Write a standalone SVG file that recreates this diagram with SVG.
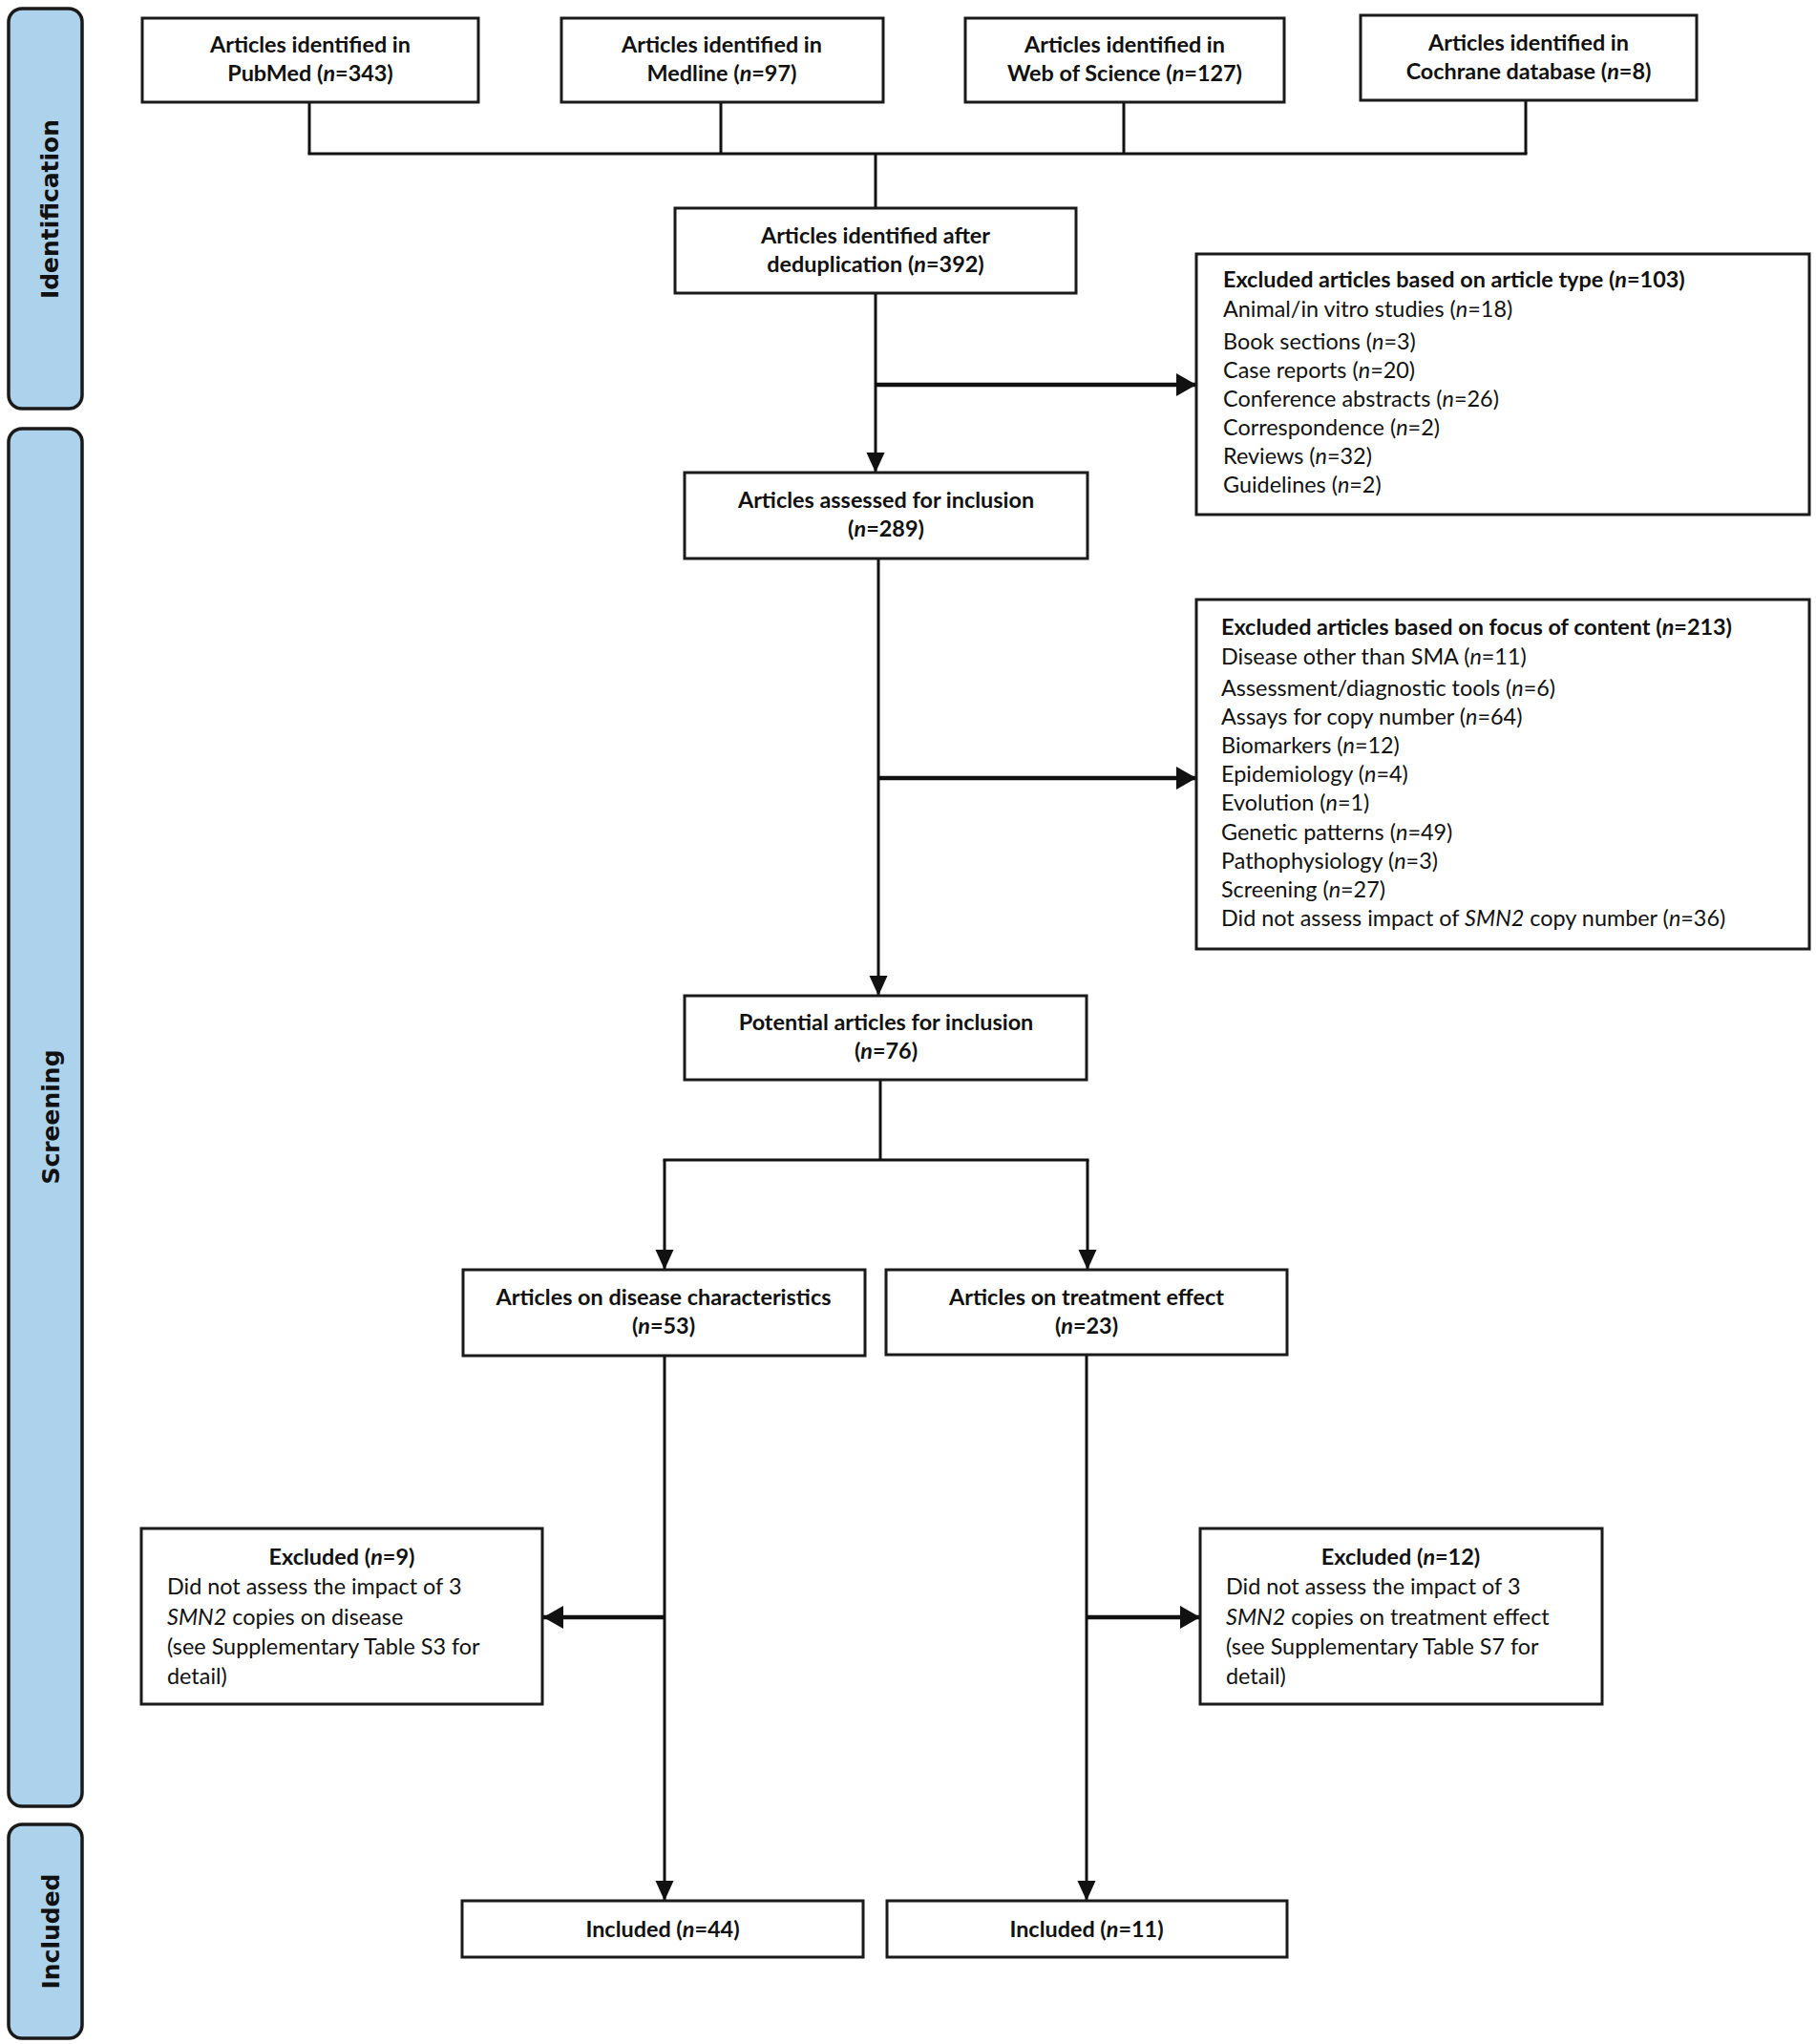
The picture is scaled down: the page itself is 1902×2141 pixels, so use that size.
<svg xmlns="http://www.w3.org/2000/svg" width="1902" height="2141" viewBox="0 0 1902 2141">
<style>
.bx{fill:#fff;stroke:#1a1a1a;stroke-width:3}
.bar{fill:#acd2ec;stroke:#1a1a1a;stroke-width:3.5}
.t{font-family:Lato,"Liberation Sans",sans-serif;font-size:23.4px;fill:#111}
.b{font-weight:bold}
.c{text-anchor:middle}
.lab{font-family:"DejaVu Sans","Liberation Sans",sans-serif;font-weight:bold;font-size:25px;fill:#111;text-anchor:middle}
.ln{fill:none;stroke:#111;stroke-width:3}
.ar{fill:none;stroke:#111;stroke-width:3;marker-end:url(#ah)}
.arh{fill:none;stroke:#111;stroke-width:4.5;marker-end:url(#ah2)}
.it{font-style:italic}
</style>
<defs>
<marker id="ah" markerUnits="userSpaceOnUse" markerWidth="22" markerHeight="22" viewBox="0 0 22 22" refX="21" refY="11" orient="auto">
<path d="M0,1.5 L21,11 L0,20.5 Z" fill="#111"/>
</marker>
<marker id="ah2" markerUnits="userSpaceOnUse" markerWidth="22" markerHeight="26" viewBox="0 0 22 26" refX="21" refY="13" orient="auto">
<path d="M0,1 L21,13 L0,25 Z" fill="#111"/>
</marker>
</defs>

<g id="phase-identification">
<rect class="bar" x="9" y="9" width="77" height="419" rx="14"/>
<text class="lab" transform="translate(61,219) rotate(-90)">Identification</text>
</g>
<g id="phase-screening">
<rect class="bar" x="9" y="449" width="77" height="1443" rx="14"/>
<text class="lab" transform="translate(62,1170) rotate(-90)">Screening</text>
</g>
<g id="phase-included">
<rect class="bar" x="9" y="1911" width="77" height="224" rx="14"/>
<text class="lab" transform="translate(62,2023) rotate(-90)">Included</text>
</g>

<g id="connectors">
<line class="ln" x1="324" y1="107" x2="324" y2="161"/>
<line class="ln" x1="755" y1="107" x2="755" y2="161"/>
<line class="ln" x1="1177" y1="107" x2="1177" y2="161"/>
<line class="ln" x1="1598" y1="105" x2="1598" y2="161"/>
<line class="ln" x1="322.5" y1="161" x2="1599.5" y2="161"/>
<line class="ln" x1="917" y1="161" x2="917" y2="218"/>
<line class="ar" x1="917" y1="307" x2="917" y2="495"/>
<line class="arh" x1="917" y1="403" x2="1253" y2="403"/>
<line class="ar" x1="920" y1="585" x2="920" y2="1043"/>
<line class="arh" x1="920" y1="815" x2="1253" y2="815"/>
<line class="ln" x1="922" y1="1131" x2="922" y2="1215"/>
<line class="ln" x1="694.5" y1="1215" x2="1140.5" y2="1215"/>
<line class="ar" x1="696" y1="1215" x2="696" y2="1330"/>
<line class="ar" x1="1139" y1="1215" x2="1139" y2="1330"/>
<line class="ar" x1="696" y1="1420" x2="696" y2="1991"/>
<line class="arh" x1="696" y1="1694" x2="569" y2="1694"/>
<line class="ar" x1="1138" y1="1419" x2="1138" y2="1991"/>
<line class="arh" x1="1138" y1="1694" x2="1257" y2="1694"/>
</g>

<g id="n-pubmed">
<rect class="bx" x="149" y="19" width="352" height="88"/>
<text class="t b c" x="325" y="55">Articles identified in</text>
<text class="t b c" x="325" y="85">PubMed (<tspan class="it">n</tspan>=343)</text>
</g>
<g id="n-medline">
<rect class="bx" x="588" y="19" width="337" height="88"/>
<text class="t b c" x="756" y="55">Articles identified in</text>
<text class="t b c" x="756" y="85">Medline (<tspan class="it">n</tspan>=97)</text>
</g>
<g id="n-wos">
<rect class="bx" x="1011" y="19" width="334" height="88"/>
<text class="t b c" x="1178" y="55">Articles identified in</text>
<text class="t b c" x="1178" y="85">Web of Science (<tspan class="it">n</tspan>=127)</text>
</g>
<g id="n-cochrane">
<rect class="bx" x="1425" y="16" width="352" height="89"/>
<text class="t b c" x="1601" y="53">Articles identified in</text>
<text class="t b c" x="1601" y="83">Cochrane database (<tspan class="it">n</tspan>=8)</text>
</g>
<g id="n-dedup">
<rect class="bx" x="707" y="218" width="420" height="89"/>
<text class="t b c" x="917" y="255">Articles identified after</text>
<text class="t b c" x="917" y="285">deduplication (<tspan class="it">n</tspan>=392)</text>
</g>
<g id="n-excl-type">
<rect class="bx" x="1253" y="266" width="642" height="273"/>
<text class="t b" x="1281" y="301">Excluded articles based on article type (<tspan class="it">n</tspan>=103)</text>
<text class="t" x="1281" y="332">Animal/in vitro studies (<tspan class="it">n</tspan>=18)</text>
<text class="t" x="1281" y="366">Book sections (<tspan class="it">n</tspan>=3)</text>
<text class="t" x="1281" y="396">Case reports (<tspan class="it">n</tspan>=20)</text>
<text class="t" x="1281" y="426">Conference abstracts (<tspan class="it">n</tspan>=26)</text>
<text class="t" x="1281" y="456">Correspondence (<tspan class="it">n</tspan>=2)</text>
<text class="t" x="1281" y="486">Reviews (<tspan class="it">n</tspan>=32)</text>
<text class="t" x="1281" y="516">Guidelines (<tspan class="it">n</tspan>=2)</text>
</g>
<g id="n-assessed">
<rect class="bx" x="717" y="495" width="422" height="90"/>
<text class="t b c" x="928" y="532">Articles assessed for inclusion</text>
<text class="t b c" x="928" y="562">(<tspan class="it">n</tspan>=289)</text>
</g>
<g id="n-excl-focus">
<rect class="bx" x="1253" y="628" width="642" height="366"/>
<text class="t b" x="1279" y="665">Excluded articles based on focus of content (<tspan class="it">n</tspan>=213)</text>
<text class="t" x="1279" y="696">Disease other than SMA (<tspan class="it">n</tspan>=11)</text>
<text class="t" x="1279" y="729">Assessment/diagnostic tools (<tspan class="it">n</tspan>=6)</text>
<text class="t" x="1279" y="759">Assays for copy number (<tspan class="it">n</tspan>=64)</text>
<text class="t" x="1279" y="789">Biomarkers (<tspan class="it">n</tspan>=12)</text>
<text class="t" x="1279" y="819">Epidemiology (<tspan class="it">n</tspan>=4)</text>
<text class="t" x="1279" y="849">Evolution (<tspan class="it">n</tspan>=1)</text>
<text class="t" x="1279" y="880">Genetic patterns (<tspan class="it">n</tspan>=49)</text>
<text class="t" x="1279" y="910">Pathophysiology (<tspan class="it">n</tspan>=3)</text>
<text class="t" x="1279" y="940">Screening (<tspan class="it">n</tspan>=27)</text>
<text class="t" x="1279" y="970">Did not assess impact of <tspan class="it">SMN2</tspan> copy number (<tspan class="it">n</tspan>=36)</text>
</g>
<g id="n-potential">
<rect class="bx" x="717" y="1043" width="421" height="88"/>
<text class="t b c" x="928" y="1079">Potential articles for inclusion</text>
<text class="t b c" x="928" y="1109">(<tspan class="it">n</tspan>=76)</text>
</g>
<g id="n-disease">
<rect class="bx" x="485" y="1330" width="421" height="90"/>
<text class="t b c" x="695" y="1367">Articles on disease characteristics</text>
<text class="t b c" x="695" y="1397">(<tspan class="it">n</tspan>=53)</text>
</g>
<g id="n-treatment">
<rect class="bx" x="928" y="1330" width="420" height="89"/>
<text class="t b c" x="1138" y="1367">Articles on treatment effect</text>
<text class="t b c" x="1138" y="1397">(<tspan class="it">n</tspan>=23)</text>
</g>
<g id="n-excl-9">
<rect class="bx" x="148" y="1601" width="420" height="184"/>
<text class="t b c" x="358" y="1639">Excluded (<tspan class="it">n</tspan>=9)</text>
<text class="t" x="175" y="1670">Did not assess the impact of 3</text>
<text class="t" x="175" y="1702"><tspan class="it">SMN2</tspan> copies on disease</text>
<text class="t" x="175" y="1733">(see Supplementary Table S3 for</text>
<text class="t" x="175" y="1764">detail)</text>
</g>
<g id="n-excl-12">
<rect class="bx" x="1257" y="1601" width="421" height="184"/>
<text class="t b c" x="1467" y="1639">Excluded (<tspan class="it">n</tspan>=12)</text>
<text class="t" x="1284" y="1670">Did not assess the impact of 3</text>
<text class="t" x="1284" y="1702"><tspan class="it">SMN2</tspan> copies on treatment effect</text>
<text class="t" x="1284" y="1733">(see Supplementary Table S7 for</text>
<text class="t" x="1284" y="1764">detail)</text>
</g>
<g id="n-included-44">
<rect class="bx" x="484" y="1991" width="420" height="59"/>
<text class="t b c" x="694" y="2029">Included (<tspan class="it">n</tspan>=44)</text>
</g>
<g id="n-included-11">
<rect class="bx" x="929" y="1991" width="419" height="59"/>
<text class="t b c" x="1138" y="2029">Included (<tspan class="it">n</tspan>=11)</text>
</g>
</svg>
